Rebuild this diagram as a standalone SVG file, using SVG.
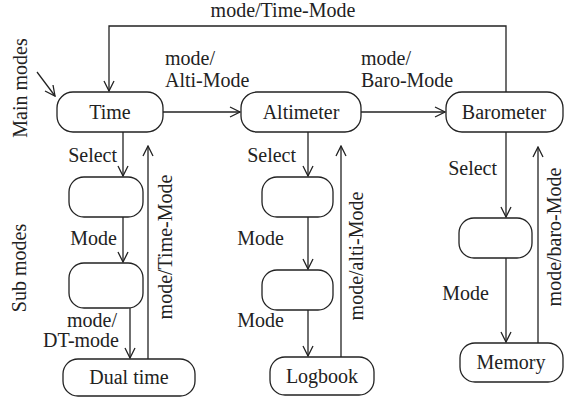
<svg xmlns="http://www.w3.org/2000/svg" width="565" height="400" viewBox="0 0 565 400">
<defs>
<marker id="ah" viewBox="0 0 12 12" refX="11" refY="6" markerWidth="12" markerHeight="12" markerUnits="userSpaceOnUse" orient="auto">
<path d="M1,1 L11,6 L1,11" fill="none" stroke="#222" stroke-width="1.3"/>
</marker>
</defs>
<rect width="565" height="400" fill="#fff"/>
<g id="connectors" fill="none" stroke="#222" stroke-width="1.3">
<path marker-end="url(#ah)" d="M506,92 V26 H109 V91"/>
<path marker-end="url(#ah)" d="M37,72 L55,96"/>
<path marker-end="url(#ah)" d="M163,112 H240"/>
<path marker-end="url(#ah)" d="M361,112 H445"/>
<path marker-end="url(#ah)" d="M123,132 V176"/>
<path marker-end="url(#ah)" d="M123,217 V262"/>
<path marker-end="url(#ah)" d="M130,308 V358"/>
<path marker-end="url(#ah)" d="M148,360 V146"/>
<path marker-end="url(#ah)" d="M308,132 V176"/>
<path marker-end="url(#ah)" d="M308,217 V269"/>
<path marker-end="url(#ah)" d="M308,310 V356"/>
<path marker-end="url(#ah)" d="M341,357 V146"/>
<path marker-end="url(#ah)" d="M506,132 V217"/>
<path marker-end="url(#ah)" d="M506,258 V342"/>
<path marker-end="url(#ah)" d="M538,343 V147"/>
</g>
<g id="labels" fill="#222">
<text font-family="Liberation Serif" font-size="20" text-anchor="middle" x="283" y="17">mode/Time-Mode</text>
<text font-family="Liberation Serif" font-size="20" x="165" y="65">mode/</text>
<text font-family="Liberation Serif" font-size="20" x="165" y="87">Alti-Mode</text>
<text font-family="Liberation Serif" font-size="20" x="361" y="65">mode/</text>
<text font-family="Liberation Serif" font-size="20" x="361" y="87">Baro-Mode</text>
<text font-family="Liberation Serif" font-size="20" text-anchor="end" x="117" y="162">Select</text>
<text font-family="Liberation Serif" font-size="20" text-anchor="end" x="117" y="245">Mode</text>
<text font-family="Liberation Serif" font-size="20" text-anchor="end" x="117" y="327">mode/</text>
<text font-family="Liberation Serif" font-size="20" text-anchor="end" x="119" y="347">DT-mode</text>
<text font-family="Liberation Serif" font-size="20" text-anchor="end" x="296" y="162">Select</text>
<text font-family="Liberation Serif" font-size="20" text-anchor="end" x="284" y="245">Mode</text>
<text font-family="Liberation Serif" font-size="20" text-anchor="end" x="284" y="327">Mode</text>
<text font-family="Liberation Serif" font-size="20" text-anchor="end" x="497" y="175">Select</text>
<text font-family="Liberation Serif" font-size="20" text-anchor="end" x="489" y="300">Mode</text>
<text font-family="Liberation Serif" font-size="20" text-anchor="middle" transform="translate(172,247) rotate(-90)">mode/Time-Mode</text>
<text font-family="Liberation Serif" font-size="20" text-anchor="middle" transform="translate(363,256) rotate(-90)">mode/alti-Mode</text>
<text font-family="Liberation Serif" font-size="20" text-anchor="middle" transform="translate(561,237) rotate(-90)">mode/baro-Mode</text>
<text font-family="Liberation Serif" font-size="20" text-anchor="middle" transform="translate(27,88) rotate(-90)">Main modes</text>
<text font-family="Liberation Serif" font-size="20" text-anchor="middle" transform="translate(26,268) rotate(-90)">Sub modes</text>
</g>
<g id="time"><rect fill="#fff" stroke="#222" stroke-width="1.3" x="57" y="92" width="106" height="40" rx="16"/><text font-family="Liberation Serif" font-size="20" fill="#222" text-anchor="middle" x="110" y="119">Time</text></g>
<g id="altimeter"><rect fill="#fff" stroke="#222" stroke-width="1.3" x="241" y="92" width="120" height="40" rx="16"/><text font-family="Liberation Serif" font-size="20" fill="#222" text-anchor="middle" x="301" y="119">Altimeter</text></g>
<g id="barometer"><rect fill="#fff" stroke="#222" stroke-width="1.3" x="446" y="92" width="117" height="40" rx="16"/><text font-family="Liberation Serif" font-size="20" fill="#222" text-anchor="middle" x="504" y="119">Barometer</text></g>
<g id="time-sub1"><rect fill="#fff" stroke="#222" stroke-width="1.3" x="69" y="177" width="74" height="40" rx="15"/></g>
<g id="time-sub2"><rect fill="#fff" stroke="#222" stroke-width="1.3" x="69" y="263" width="74" height="45" rx="15"/></g>
<g id="dual-time"><rect fill="#fff" stroke="#222" stroke-width="1.3" x="63" y="359" width="132" height="37" rx="15"/><text font-family="Liberation Serif" font-size="20" fill="#222" text-anchor="middle" x="129" y="384">Dual time</text></g>
<g id="alti-sub1"><rect fill="#fff" stroke="#222" stroke-width="1.3" x="262" y="177" width="71" height="40" rx="15"/></g>
<g id="alti-sub2"><rect fill="#fff" stroke="#222" stroke-width="1.3" x="262" y="270" width="71" height="40" rx="15"/></g>
<g id="logbook"><rect fill="#fff" stroke="#222" stroke-width="1.3" x="270" y="357" width="104" height="38" rx="15"/><text font-family="Liberation Serif" font-size="20" fill="#222" text-anchor="middle" x="322" y="383">Logbook</text></g>
<g id="baro-sub1"><rect fill="#fff" stroke="#222" stroke-width="1.3" x="459" y="218" width="73" height="40" rx="15"/></g>
<g id="memory"><rect fill="#fff" stroke="#222" stroke-width="1.3" x="460" y="343" width="103" height="39" rx="15"/><text font-family="Liberation Serif" font-size="20" fill="#222" text-anchor="middle" x="511" y="369">Memory</text></g>
</svg>
